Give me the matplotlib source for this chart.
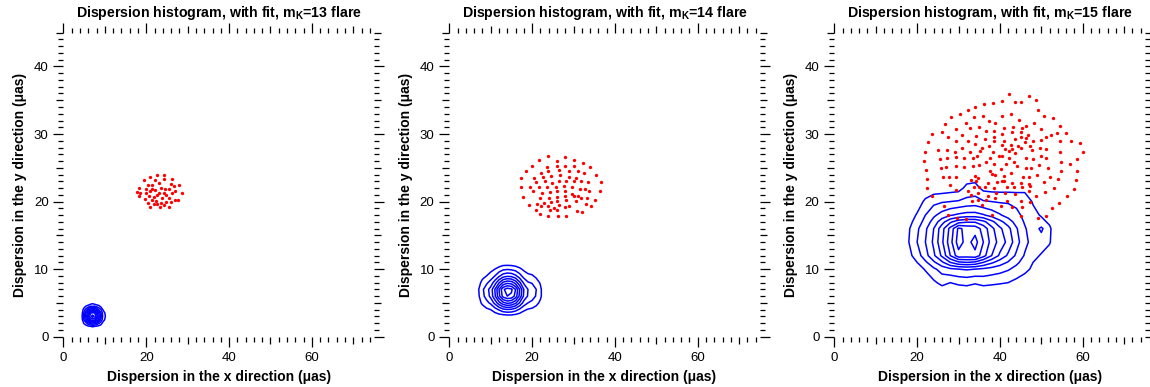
import numpy as np
import matplotlib
matplotlib.use("Agg")
import matplotlib.pyplot as plt
from matplotlib.ticker import MultipleLocator, FuncFormatter

plt.rcParams['font.family'] = ['Liberation Sans', 'DejaVu Sans']
plt.rcParams['mathtext.fontset'] = 'custom'
plt.rcParams['mathtext.rm'] = 'Liberation Sans:bold'
plt.rcParams['mathtext.it'] = 'Liberation Sans:bold'
plt.rcParams['mathtext.bf'] = 'Liberation Sans:bold'

magnitudes = [13, 14, 15]

# puntos del ajuste (rojo)
fit13_x = [22.7, 24.3, 20.9, 26.3, 19.4, 22.1, 24.3, 25.9, 27.8, 18.2, 20.3, 21.4, 23.0, 25.6, 26.7,
           17.8, 18.6, 20.0, 21.0, 22.1, 23.1, 24.2, 24.8, 26.1, 26.9, 28.6, 18.3, 20.7, 21.9, 22.7,
           23.7, 25.4, 26.9, 27.7, 20.3, 21.3, 22.3, 23.5, 24.7, 25.9, 21.8, 22.7, 24.2, 21.0, 23.3,
           25.5, 19.8, 24.6, 23.5, 21.5, 19.9]
fit13_y = [23.9, 23.9, 23.6, 23.4, 23.2, 23.2, 23.3, 22.6, 22.4, 22.0, 22.5, 22.5, 22.8, 21.9, 22.3,
           21.4, 21.2, 21.2, 21.5, 21.7, 21.3, 21.2, 21.0, 21.2, 21.5, 21.2, 20.8, 20.9, 20.7, 21.0,
           20.6, 20.6, 20.2, 20.2, 19.8, 20.2, 20.1, 19.8, 20.0, 19.9, 19.6, 19.7, 19.5, 19.2, 19.2,
           19.2, 20.4, 21.9, 22.0, 21.9, 21.8]

fit14_x = [23.8, 27.9, 30.1, 21.7, 25.9, 32.2, 20.0, 23.5, 25.9, 28.0, 30.0, 34.0, 18.6, 22.1, 23.9,
           26.4, 28.9, 31.0, 32.5, 35.4, 17.3, 20.4, 22.7, 24.5, 26.7, 28.8, 30.6, 36.6, 20.9, 23.1,
           24.7, 26.4, 28.1, 30.1, 31.9, 33.5, 17.2, 19.4, 21.7, 23.7, 25.8, 27.7, 29.7, 31.6, 32.7,
           36.3, 20.3, 22.4, 24.3, 26.1, 27.9, 29.7, 31.1, 33.8, 17.9, 21.9, 24.0, 25.9, 27.9, 30.1,
           31.9, 33.3, 35.3, 19.3, 21.1, 22.9, 24.5, 26.1, 28.1, 30.7, 32.9, 34.2, 21.0, 22.1, 23.9,
           25.3, 26.5, 27.9, 28.9, 30.9, 32.0, 21.9, 23.9, 26.3, 28.3, 24.3, 26.1]
fit14_y = [26.8, 26.6, 26.2, 26.2, 26.0, 25.7, 25.3, 25.1, 25.3, 25.3, 25.2, 25.1, 24.5, 24.2, 24.5,
           24.7, 24.6, 24.5, 24.2, 24.0, 23.5, 23.5, 23.7, 23.8, 24.0, 23.6, 23.5, 22.9, 22.9, 23.0,
           22.8, 23.1, 23.1, 23.0, 23.1, 22.9, 22.1, 22.2, 22.2, 22.2, 22.1, 22.3, 22.2, 21.8, 21.8,
           21.5, 21.6, 21.2, 21.4, 21.6, 21.5, 21.1, 20.8, 21.5, 20.7, 20.5, 20.6, 20.7, 20.8, 20.8,
           20.5, 20.5, 20.3, 19.5, 19.7, 19.8, 20.0, 20.1, 20.2, 20.1, 19.6, 19.4, 18.7, 19.4, 19.3,
           19.1, 19.5, 19.2, 19.4, 18.6, 18.5, 18.2, 17.9, 17.9, 17.8, 18.8, 18.8]

fit15_x = [38.3, 36.1, 34.1, 32.3, 30.3, 28.3, 26.7, 33.7, 35.8, 37.4, 38.9, 31.7, 29.5, 25.9, 23.7,
           32.7, 34.9, 36.7, 38.5, 30.9, 27.5, 34.3, 36.3, 38.5, 22.7, 32.2, 38.5, 29.5, 34.1, 25.1,
           27.3, 29.1, 30.9, 35.7, 37.3, 38.3, 22.0, 32.7, 35.3, 29.5, 31.3, 33.4, 34.5, 39.7, 37.7,
           21.6, 25.5, 27.3, 36.7, 38.6, 29.5, 31.3, 33.5, 35.0, 22.2, 25.7, 27.0, 37.5, 38.2, 38.7,
           27.6, 26.3, 29.5, 34.1, 34.6, 22.5, 32.9, 34.3, 27.9, 37.1, 39.3, 22.3, 29.5, 33.7, 35.0,
           36.3, 38.5, 40.5, 32.4, 34.7, 37.0, 39.1, 23.7, 32.9, 34.7, 36.6, 38.9, 26.5, 33.3, 27.5,
           29.7, 31.8, 35.6, 38.2, 40.2,
           42.3, 47.0, 40.6, 43.7, 45.1, 48.8, 49.1, 40.5, 42.6, 44.6, 48.3, 50.7, 52.9, 54.5, 43.2,
           46.3, 40.9, 45.3, 50.0, 55.9, 53.9, 52.4, 51.2, 40.6, 43.0, 45.0, 46.8, 46.4, 41.0, 43.6,
           45.1, 48.1, 50.0, 54.6, 57.2, 59.3, 40.6, 42.7, 44.3, 46.0, 47.2, 49.6, 51.2, 41.3, 42.2,
           43.0, 45.1, 47.8, 54.6, 60.1, 40.6, 42.1, 43.7, 46.2, 48.0, 49.9, 51.2, 58.7, 41.4, 43.5,
           44.1, 46.4, 47.6, 49.4, 51.5, 54.7, 57.0, 40.3, 42.7, 54.7, 58.5, 40.9, 45.6, 47.0, 48.9,
           52.2, 40.9, 43.0, 45.2, 47.0, 50.6, 54.1, 58.3, 41.6, 43.4, 45.4, 47.2, 53.1, 57.9, 41.3,
           43.7, 47.0, 48.8, 51.0, 56.1, 41.6, 45.2, 47.2, 54.3, 43.0, 45.4, 52.6, 45.1, 49.2, 51.2]
fit15_y = [34.6, 34.4, 34.0, 33.6, 33.0, 32.5, 31.5, 32.5, 32.6, 32.0, 31.7, 31.6, 30.7, 30.3, 30.0,
           30.9, 31.1, 30.4, 30.5, 29.9, 29.5, 29.7, 29.2, 29.6, 28.8, 29.0, 28.9, 28.9, 28.5, 27.7,
           27.7, 27.4, 27.9, 28.0, 28.2, 27.3, 27.4, 27.3, 27.5, 26.6, 26.4, 26.5, 26.8, 26.8, 26.5,
           26.0, 26.3, 26.4, 25.8, 25.6, 25.3, 25.1, 25.2, 25.4, 24.7, 24.9, 25.1, 24.5, 24.1, 24.0,
           23.7, 23.6, 23.6, 23.8, 23.5, 23.4, 23.2, 23.1, 22.5, 22.8, 22.9, 22.0, 21.7, 22.2, 22.1,
           22.1, 22.0, 23.1, 21.6, 21.2, 20.9, 21.3, 20.8, 21.0, 20.2, 20.2, 20.6, 19.4, 20.1, 18.0,
           17.6, 17.4, 19.5, 18.0, 19.4,
           35.9, 35.6, 34.9, 34.7, 34.8, 35.1, 33.6, 32.7, 33.0, 32.1, 31.7, 32.7, 32.3, 31.2, 31.1,
           31.2, 30.9, 30.9, 30.8, 30.1, 30.1, 29.9, 29.5, 30.0, 30.3, 30.3, 29.9, 29.4, 29.0, 29.2,
           29.6, 29.0, 29.1, 29.0, 29.0, 28.6, 28.4, 28.4, 28.3, 28.8, 28.2, 28.0, 27.8, 27.8, 27.5,
           27.8, 27.9, 27.7, 27.4, 27.4, 26.8, 26.4, 27.2, 26.4, 26.3, 26.7, 26.4, 26.3, 25.5, 25.9,
           25.2, 24.9, 25.0, 25.4, 25.0, 25.9, 25.6, 24.8, 24.2, 24.6, 24.5, 23.8, 23.7, 23.6, 23.9,
           23.7, 23.0, 22.8, 22.7, 22.6, 22.9, 23.3, 23.2, 22.1, 22.1, 22.1, 22.3, 22.0, 21.8, 21.3,
           21.1, 21.5, 20.9, 21.4, 20.9, 20.1, 20.1, 20.0, 19.8, 19.2, 19.2, 19.0, 17.8, 17.6, 17.9]

# histogramas de dispersion (azul): centros de bins y cuentas
hist13_x = [4.0, 4.5, 5.0, 5.5, 6.0, 6.5, 7.0, 7.5, 8.0, 8.5, 9.0, 9.5, 10.0, 10.5, 11.0]
hist13_y = [1.0, 1.5, 2.0, 2.5, 3.0, 3.5, 4.0, 4.5, 5.0, 5.5]
hist13 = [
    [0, 0, 0, 0, 0, 0, 0, 0, 0, 0, 0, 0, 0, 0, 0],
    [0, 0.1, 0.3, 0.5, 0.7, 0.8, 1.1, 0.9, 0.7, 0.6, 0.4, 0.2, 0.1, 0, 0],
    [0, 0.4, 1.2, 1.8, 2.8, 3.4, 3.9, 3.5, 3.1, 2.2, 1.6, 0.7, 0.5, 0.1, 0],
    [0, 0.8, 2.2, 3.9, 5.3, 7.1, 7.5, 7.3, 5.9, 4.7, 2.9, 1.6, 0.9, 0.2, 0],
    [0, 1.0, 2.9, 4.6, 6.9, 8.6, 9.5, 8.9, 7.7, 5.6, 3.9, 1.8, 1.2, 0.3, 0],
    [0, 0.8, 2.4, 4.3, 5.9, 7.8, 8.3, 8.1, 6.6, 5.1, 3.2, 1.7, 1.0, 0.2, 0],
    [0, 0.5, 1.6, 2.5, 3.8, 4.7, 5.3, 4.9, 4.3, 3.0, 2.2, 1.0, 0.6, 0.1, 0],
    [0, 0.2, 0.6, 1.1, 1.4, 2.0, 2.0, 2.1, 1.6, 1.3, 0.8, 0.4, 0.2, 0, 0],
    [0, 0, 0.1, 0.2, 0.2, 0.3, 0.7, 0.3, 0.2, 0.2, 0.1, 0.1, 0, 0, 0],
    [0, 0, 0, 0, 0, 0, 0, 0, 0, 0, 0, 0, 0, 0, 0],
]

hist14_x = [6, 7, 8, 9, 10, 11, 12, 13, 14, 15, 16, 17, 18, 19, 20, 21, 22, 23]
hist14_y = [2, 3, 4, 5, 6, 7, 8, 9, 10, 11]
hist14 = [
    [0, 0, 0, 0, 0, 0, 0, 0, 0, 0, 0, 0, 0, 0, 0, 0, 0, 0],
    [0, 0, 0.1, 0.1, 0.2, 0.3, 0.4, 0.4, 0.5, 0.5, 0.4, 0.3, 0.2, 0.2, 0.1, 0.1, 0.1, 0],
    [0, 0.3, 0.5, 0.8, 1.0, 1.5, 2.1, 2.7, 2.9, 2.8, 2.4, 1.8, 1.2, 0.9, 0.8, 0.6, 0.4, 0.1],
    [0, 0.6, 1.2, 1.7, 2.2, 3.3, 4.6, 5.7, 6.2, 6.0, 5.2, 3.9, 2.6, 2.0, 1.7, 1.3, 0.8, 0.2],
    [0, 0.8, 1.7, 2.4, 3.3, 4.8, 6.7, 8.4, 9.0, 8.8, 7.6, 5.7, 3.8, 2.9, 2.5, 1.9, 1.2, 0.3],
    [0, 0.9, 1.8, 2.6, 3.4, 5.0, 7.0, 8.8, 9.5, 9.2, 8.0, 6.0, 4.0, 3.0, 2.7, 2.0, 1.2, 0.3],
    [0, 0.6, 1.3, 1.8, 2.4, 3.5, 4.9, 6.2, 6.7, 6.5, 5.6, 4.2, 2.8, 2.1, 1.9, 1.4, 0.9, 0.2],
    [0, 0.3, 0.7, 1.0, 1.4, 2.0, 2.8, 3.5, 3.8, 3.7, 3.2, 2.4, 1.6, 1.2, 1.1, 0.8, 0.5, 0.1],
    [0, 0.2, 0.4, 0.5, 0.7, 1.0, 1.4, 1.8, 1.9, 1.8, 1.6, 1.2, 0.8, 0.6, 0.5, 0.4, 0.3, 0.1],
    [0, 0, 0.1, 0.1, 0.1, 0.2, 0.2, 0.3, 0.3, 0.3, 0.2, 0.2, 0.1, 0.1, 0.1, 0.1, 0, 0],
]

hist15_x = [16, 18, 20, 22, 24, 26, 28, 30, 32, 34, 36, 38, 40, 42, 44, 46, 48, 50, 52, 54]
hist15_y = [6, 8, 10, 11, 12, 14, 16, 17, 18, 20, 22, 24]
hist15 = [
    [0, 0, 0, 0, 0, 0, 0, 0, 0, 0, 0, 0, 0, 0, 0, 0, 0, 0, 0, 0],
    [0, 0, 0, 0.3, 0.8, 1.3, 1.0, 1.2, 1.3, 1.1, 1.3, 1.2, 1.1, 1.0, 0.7, 0.4, 0.1, 0, 0, 0],
    [0, 0, 0.5, 1.1, 1.8, 2.4, 2.8, 3.0, 3.1, 3.0, 2.8, 2.6, 2.4, 2.1, 1.7, 1.3, 0.8, 0.4, 0, 0],
    [0, 0.4, 1.0, 1.8, 2.8, 3.8, 5.0, 5.8, 6.0, 5.8, 5.0, 4.2, 3.5, 2.9, 2.2, 1.6, 1.0, 0.6, 0.2, 0],
    [0.1, 0.7, 1.5, 2.6, 3.8, 5.2, 7.0, 8.6, 8.5, 8.7, 7.4, 6.0, 4.8, 3.8, 2.8, 1.9, 1.3, 0.9, 0.5, 0],
    [0.3, 1.0, 2.0, 3.0, 4.2, 5.8, 7.6, 9.5, 8.6, 9.4, 8.0, 6.6, 5.6, 4.7, 3.4, 2.3, 1.6, 1.5, 1.1, 0],
    [0.3, 0.9, 1.8, 2.8, 4.0, 5.6, 7.3, 9.2, 8.7, 8.6, 7.6, 6.3, 5.2, 4.3, 3.1, 2.1, 1.5, 2.2, 1.2, 0],
    [0.2, 0.7, 1.4, 2.4, 3.4, 4.6, 5.8, 6.6, 6.9, 6.9, 6.3, 5.3, 4.3, 3.5, 2.6, 1.9, 1.4, 1.3, 0.8, 0],
    [0.1, 0.5, 1.1, 2.0, 2.8, 3.4, 3.9, 4.2, 4.4, 4.4, 4.1, 3.6, 3.1, 2.6, 2.2, 1.8, 1.3, 0.9, 0.3, 0],
    [0, 0, 0.5, 1.2, 1.7, 1.9, 2.0, 2.1, 2.3, 2.4, 2.1, 2.0, 1.9, 1.9, 1.8, 1.6, 0.9, 0.5, 0, 0],
    [0, 0, 0, 0.3, 0.4, 0.4, 0.5, 0.6, 1.3, 1.4, 0.7, 0.6, 0.6, 0.6, 0.6, 0.7, 0.3, 0.1, 0, 0],
    [0, 0, 0, 0, 0, 0, 0, 0, 0.3, 0.4, 0, 0, 0, 0, 0, 0, 0, 0, 0, 0],
]

niveles = [1, 2, 3, 4, 5, 6, 7, 8, 9]

paneles = [
    (fit13_x, fit13_y, hist13_x, hist13_y, hist13),
    (fit14_x, fit14_y, hist14_x, hist14_y, hist14),
    (fit15_x, fit15_y, hist15_x, hist15_y, hist15),
]

fig = plt.figure(figsize=(11.5, 3.87), dpi=100)
lefts = [0.0552, 0.3907, 0.7255]

for i, (fx, fy, hx, hy, h) in enumerate(paneles):
    ax = fig.add_axes([lefts[i], 0.130, 0.270, 0.7855])
    ax.contour(hx, hy, np.array(h), levels=niveles, colors="blue", linewidths=1.1)
    ax.plot(fx, fy, "o", color="red", markersize=2.4, markeredgewidth=0)

    ax.set_xlim(0, 75)
    ax.set_ylim(0, 45)
    for s in ax.spines.values():
        s.set_visible(False)

    ax.xaxis.set_major_locator(MultipleLocator(10))
    ax.xaxis.set_minor_locator(MultipleLocator(2))
    ax.yaxis.set_major_locator(MultipleLocator(5))
    ax.yaxis.set_minor_locator(MultipleLocator(1))
    ax.xaxis.set_major_formatter(FuncFormatter(lambda v, p: f"{v:.0f}" if v % 20 == 0 else ""))
    ax.yaxis.set_major_formatter(FuncFormatter(lambda v, p: f"{v:.0f}" if v % 10 == 0 else ""))
    ax.tick_params(which="both", direction="out", top=True, right=True, width=0.9, labelsize=9.5)
    ax.tick_params(which="major", length=7.2, pad=3.5)
    ax.tick_params(which="minor", length=3.6)

    # marcas intermedias mas cortas (10, 30, 50... y 5, 15, 25...)
    for axis, paso in ((ax.xaxis, 20), (ax.yaxis, 10)):
        locs = axis.get_majorticklocs()
        for t, v in zip(axis.get_major_ticks(len(locs)), locs):
            if v % paso != 0:
                t.tick1line.set_markersize(5.2)
                t.tick2line.set_markersize(5.2)

    ax.set_xlabel("Dispersion in the x direction (μas)", fontsize=10, fontweight="bold", labelpad=5)
    ax.set_ylabel("Dispersion in the y direction (μas)", fontsize=10, fontweight="bold", labelpad=5)
    ax.set_title(r"Dispersion histogram, with fit, m$_{\rm K}$=" + str(magnitudes[i]) + " flare",
                 fontsize=10.2, fontweight="bold", pad=11)

fig.savefig("out.png", dpi=100)
